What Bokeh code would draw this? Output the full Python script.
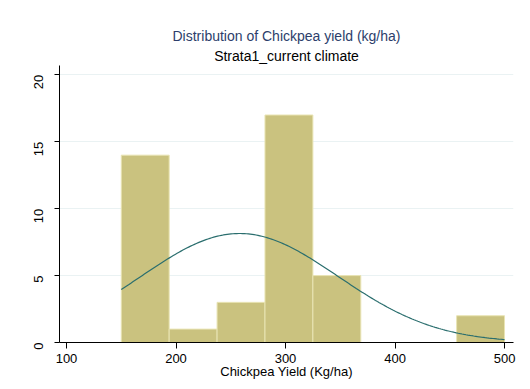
import math
import numpy as np
from bokeh.plotting import figure
from bokeh.models import Title, FixedTicker, Range1d
from bokeh.embed import file_html
from bokeh.resources import INLINE

# Data
bin_edges = [150, 193.75, 237.5, 281.25, 325, 368.75, 412.5, 456.25, 500]
counts = [14, 1, 3, 17, 5, 0, 0, 2]
fit_mean = 258.0
fit_sd = 90.0
x_ticks = [100, 200, 300, 400, 500]
y_ticks = [0, 5, 10, 15, 20]

FONT = "Liberation Sans"

p = figure(width=522, height=381, output_backend="svg", toolbar_location=None,
           x_range=Range1d(93.6, 508.2), y_range=Range1d(0, 20.7),
           min_border_left=59, min_border_right=9, min_border_top=65, min_border_bottom=38,
           title="Distribution of Chickpea yield (kg/ha)")
p.title.align = "center"
p.title.text_font = FONT
p.title.text_font_size = "14px"
p.title.text_font_style = "normal"
p.title.text_color = "#2C3E6B"
p.title.standoff = 0
p.add_layout(Title(text="Strata1_current climate", align="center", standoff=4,
                   text_font=FONT, text_font_size="14px", text_font_style="normal",
                   text_color="#000000"), "above")

p.outline_line_color = None
p.background_fill_color = "white"
p.border_fill_color = "white"

# histogram bars
left = bin_edges[:-1]
right = bin_edges[1:]
nz = [i for i, c in enumerate(counts) if c > 0]
p.quad(left=[left[i] for i in nz], right=[right[i] for i in nz], bottom=0,
       top=[counts[i] for i in nz], fill_color="#CAC27F", line_color="#E9E4B4", line_width=1)

# normal density fitted, scaled to frequency
n = sum(counts)
width = bin_edges[1] - bin_edges[0]
xs = np.linspace(bin_edges[0], bin_edges[-1], 200)
ys = n * width * np.exp(-0.5 * ((xs - fit_mean) / fit_sd) ** 2) / (fit_sd * math.sqrt(2 * math.pi))
p.line(xs, ys, line_color="#2A6E6E", line_width=1.2)

# axes
p.xaxis.ticker = FixedTicker(ticks=x_ticks)
p.yaxis.ticker = FixedTicker(ticks=y_ticks)
p.xaxis.minor_tick_line_color = None
p.yaxis.minor_tick_line_color = None
for ax in (p.xaxis, p.yaxis):
    ax.axis_line_color = "#000000"
    ax.major_tick_line_color = "#000000"
    ax.major_tick_in = 0
    ax.major_tick_out = 6
    ax.major_label_text_font = FONT
    ax.major_label_text_font_size = "13px"
    ax.major_label_text_color = "#000000"
p.yaxis.major_tick_out = 5
p.yaxis.major_label_orientation = math.pi / 2
p.yaxis.major_label_standoff = 16
p.xaxis.major_label_standoff = 5
p.xaxis.axis_label = "Chickpea Yield (Kg/ha)"
p.xaxis.axis_label_text_font = FONT
p.xaxis.axis_label_text_font_size = "13px"
p.xaxis.axis_label_text_font_style = "normal"
p.xaxis.axis_label_text_color = "#000000"
p.xaxis.axis_label_standoff = -2

p.xgrid.grid_line_color = None
p.ygrid.grid_line_color = "#EAF2F3"
p.ygrid.ticker = FixedTicker(ticks=[5, 10, 15, 20])

open("out.html", "w").write(file_html(p, INLINE))
